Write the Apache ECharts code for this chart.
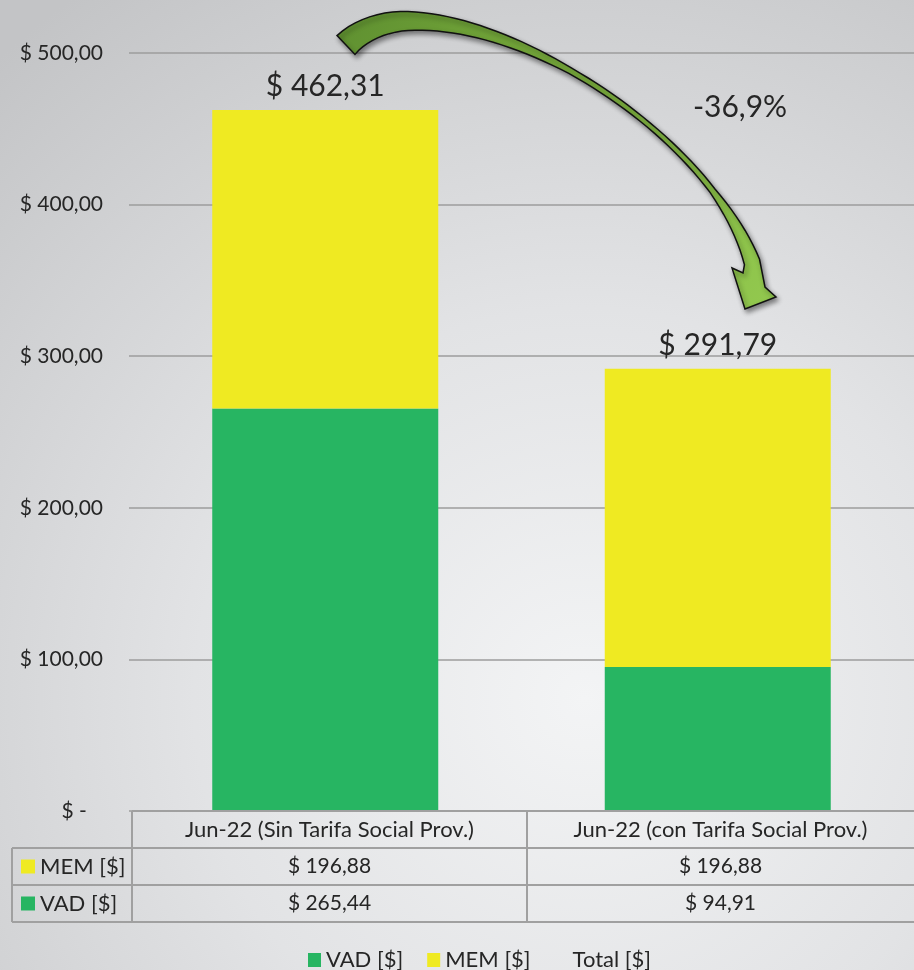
<!DOCTYPE html>
<html>
<head>
<meta charset="utf-8">
<title>VAD / MEM Jun-22</title>
<script src="https://cdn.jsdelivr.net/npm/echarts@6/dist/echarts.min.js"></script>
</head>
<body style="margin:0">
<div id="container" style="width:914px;height:970px"></div>
<script>
var categories = ['Jun-22 (Sin Tarifa Social Prov.)', 'Jun-22 (con Tarifa Social Prov.)'];
var vadValues = [265.44, 94.91];
var memValues = [196.88, 196.88];
var totalValues = [462.31, 291.79];
var seriesNames = ['VAD [$]', 'MEM [$]', 'Total [$]'];
var yMax = 500, yStep = 100;

var GREEN = '#27b562', YELLOW = '#efea22', TXT = '#262626', LINE = '#a0a0a0';
var FONT = 'Lato';

function money(v) {
  return '$ ' + v.toFixed(2).replace('.', ',');
}
var change = ((totalValues[1] / totalValues[0] - 1) * 100).toFixed(1).replace('.', ',') + '%';

// curved arrow (decoration): two bezier pieces for the centre line, widths along them
var arrowSegs = [
  { p: [[346,45],[360,30],[385,21],[408,21]], w: [26, 19] },
  { p: [[408,21],[530,20],[712,142],[752,262]], w: [19, 12, 6, 5, 6, 16] }
];
function bez(p, t) {
  var u = 1 - t;
  return [0, 1].map(function (k) {
    return u*u*u*p[0][k] + 3*u*u*t*p[1][k] + 3*u*t*t*p[2][k] + t*t*t*p[3][k];
  });
}
function widthAt(w, t) {
  var f = t * (w.length - 1), i = Math.min(Math.floor(f), w.length - 2);
  return w[i] + (w[i + 1] - w[i]) * (f - i);
}
function buildArrow() {
  var c = [];
  arrowSegs.forEach(function (s, si) {
    var n = si === 0 ? 10 : 50;
    for (var i = (si === 0 ? 0 : 1); i <= n; i++) {
      var q = bez(s.p, i / n);
      q[2] = widthAt(s.w, i / n);
      c.push(q);
    }
  });
  var outer = [], inner = [];
  for (var j = 0; j < c.length; j++) {
    var a = c[Math.max(j - 1, 0)], b = c[Math.min(j + 1, c.length - 1)];
    var tx = b[0] - a[0], ty = b[1] - a[1], len = Math.sqrt(tx * tx + ty * ty) || 1;
    var nx = ty / len, ny = -tx / len, h = c[j][2] / 2;
    outer.push([c[j][0] + nx * h, c[j][1] + ny * h]);
    inner.push([c[j][0] - nx * h, c[j][1] - ny * h]);
  }
  return outer.concat([[765,287],[776,297],[745,309],[732,268],[743,273]]).concat(inner.reverse());
}

// data table
var colX = [12, 132, 527, 914];
var rowY = [811, 848, 885, 922];
var tableRows = [
  { name: seriesNames[1], color: YELLOW, values: memValues },
  { name: seriesNames[0], color: GREEN, values: vadValues }
];
var g = [];
function hline(x1, x2, y) {
  g.push({ type: 'line', shape: { x1: x1, y1: y, x2: x2, y2: y }, style: { stroke: LINE, lineWidth: 2 }, z: 10 });
}
function vline(x, y1, y2) {
  g.push({ type: 'line', shape: { x1: x, y1: y1, x2: x, y2: y2 }, style: { stroke: LINE, lineWidth: 2 }, z: 10 });
}
hline(colX[1], 916, rowY[0]);
hline(colX[0], 916, rowY[1]);
hline(colX[0], 916, rowY[2]);
hline(colX[0], 916, rowY[3]);
vline(colX[0], rowY[1], rowY[3]);
vline(colX[1], rowY[0], rowY[3]);
vline(colX[2], rowY[0], rowY[3]);
function cellText(txt, x, y, align, size) {
  g.push({ type: 'text', x: x, y: y, z: 10,
    style: { text: txt, fill: TXT, font: (size || 21) + 'px ' + FONT, align: align || 'center', verticalAlign: 'middle' } });
}
categories.forEach(function (c, i) {
  cellText(c, (colX[i + 1] + colX[i + 2]) / 2, (rowY[0] + rowY[1]) / 2, 'center', 22);
});
tableRows.forEach(function (r, j) {
  var cy = (rowY[j + 1] + rowY[j + 2]) / 2;
  g.push({ type: 'rect', shape: { x: 21, y: cy - 7, width: 14, height: 14 }, style: { fill: r.color }, z: 10 });
  cellText(r.name, 40, cy, 'left', 22);
  r.values.forEach(function (v, i) {
    cellText(money(v), (colX[i + 1] + colX[i + 2]) / 2, cy);
  });
});
g.push({
  type: 'polygon', z: 20,
  shape: { points: buildArrow() },
  style: {
    fill: { type: 'linear', x: 0, y: 0, x2: 1, y2: 1,
      colorStops: [{ offset: 0, color: '#5e8f30' }, { offset: 0.5, color: '#7fb33f' }, { offset: 1, color: '#93c94f' }] },
    stroke: '#111', lineWidth: 1.5, lineJoin: 'miter',
    shadowBlur: 5, shadowColor: 'rgba(0,0,0,0.45)', shadowOffsetX: 2, shadowOffsetY: 3
  }
});
g.push({ type: 'text', x: 740, y: 107, z: 20,
  style: { text: change, fill: TXT, font: '30px ' + FONT, align: 'center', verticalAlign: 'middle' } });

var dom = document.getElementById('container');
var myChart = echarts.init(dom);
var option = {
  backgroundColor: {
    type: 'radial', x: 0.64, y: 0.72, r: 0.95,
    colorStops: [{ offset: 0, color: '#f3f4f5' }, { offset: 0.45, color: '#e2e3e5' }, { offset: 1, color: '#c3c4c6' }]
  },
  textStyle: { fontFamily: FONT },
  grid: { left: 129, top: 53, width: 786, height: 758 },
  legend: {
    left: 303, top: 944,
    itemWidth: 13, itemHeight: 14, itemGap: 24,
    textStyle: { fontSize: 22, color: TXT, fontFamily: FONT },
    data: [
      { name: seriesNames[0], icon: 'rect' },
      { name: seriesNames[1], icon: 'rect' },
      { name: seriesNames[2], icon: 'rect', itemStyle: { color: 'rgba(0,0,0,0)' } }
    ]
  },
  xAxis: {
    type: 'category', data: categories,
    axisLine: { show: false }, axisTick: { show: false }, axisLabel: { show: false }
  },
  yAxis: {
    type: 'value', min: 0, max: yMax, interval: yStep,
    axisLine: { show: false }, axisTick: { show: false },
    splitLine: { lineStyle: { color: '#9c9c9c', width: 1.5 } },
    axisLabel: {
      margin: 26, fontSize: 21, color: TXT, fontFamily: FONT,
      formatter: function (v) { return v === 0 ? '$ -\u00a0\u00a0\u00a0' : money(v); }
    }
  },
  series: [
    { name: seriesNames[0], type: 'bar', stack: 'tot', data: vadValues, barWidth: 226,
      itemStyle: { color: GREEN } },
    { name: seriesNames[1], type: 'bar', stack: 'tot', data: memValues, barWidth: 226,
      itemStyle: { color: YELLOW } },
    { name: seriesNames[2], type: 'line', data: totalValues, symbol: 'rect', symbolSize: 1, showSymbol: true,
      itemStyle: { color: 'rgba(0,0,0,0)' },
      lineStyle: { opacity: 0 },
      label: { show: true, position: 'top', distance: 8, fontSize: 30, color: TXT, fontFamily: FONT,
        formatter: function (p) { return money(p.value); } } }
  ],
  graphic: g,
  animation: false
};
myChart.setOption(option);
</script>
</body>
</html>
